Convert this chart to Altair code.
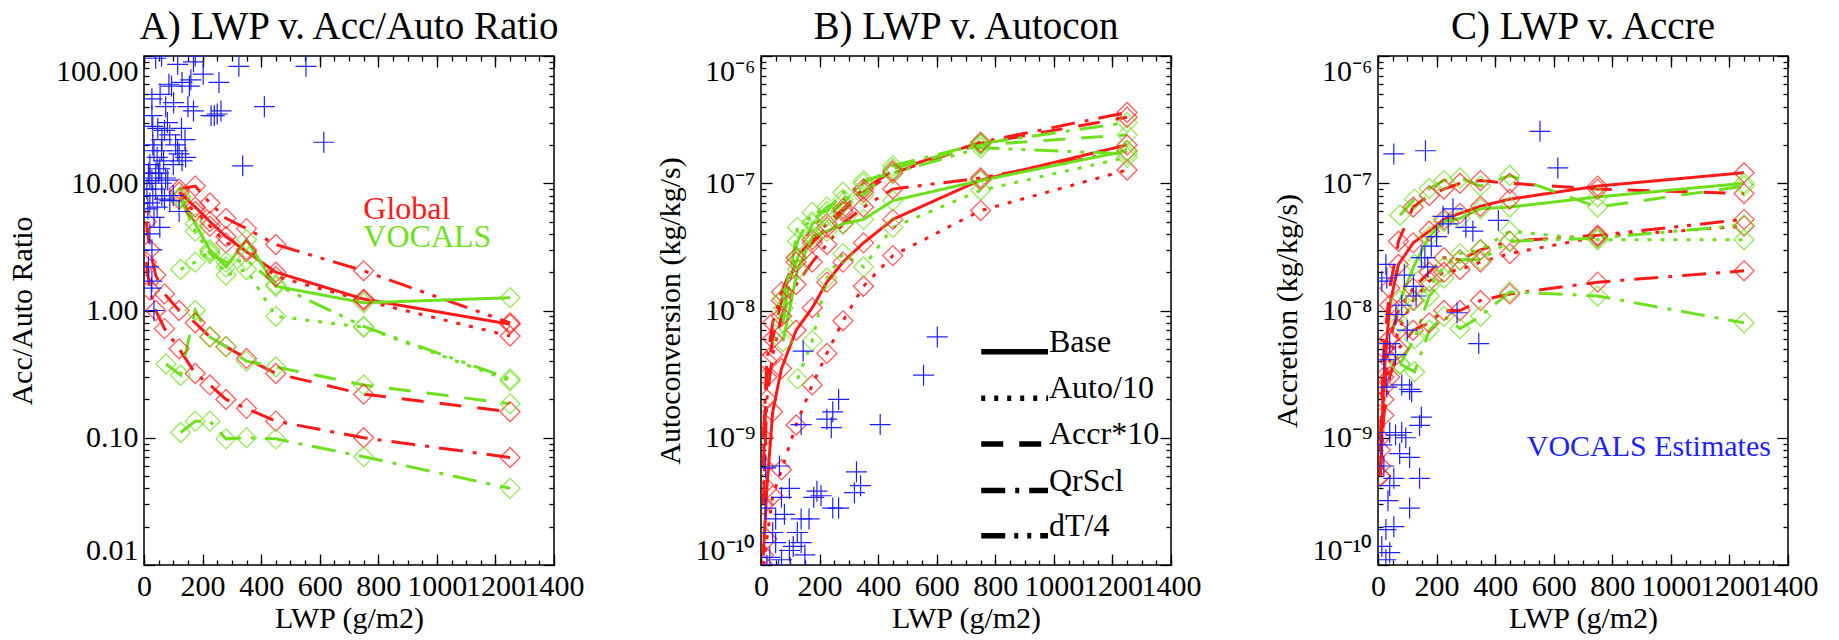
import altair as alt
import pandas as pd

SERIF = "Liberation Serif"
RED = "#ff1a1a"
GREEN = "#6ee01e"
BLUE = "#1f1fff"
CROSS = "M-1,0L1,0M0,-1L0,1"

EXPERIMENTS = ["Base", "Auto/10", "Accr*10", "QrScl", "dT/4"]
DASHES = [[1, 0], [4, 9], [22, 16], [24, 10, 4, 10], [24, 9, 4, 9, 4, 9]]
REGIONS = ["Global", "VOCALS"]
REGION_COLORS = [RED, GREEN]

# LWP bins (g/m2)
GLOBAL_LWP = [8, 20, 40, 70, 120, 175, 225, 280, 350, 450, 750, 1250]
VOCALS_LWP = [75, 125, 175, 225, 280, 350, 450, 750, 1250]

# ---- Panel A: Acc/Auto ratio ----
A_GLB_BASE = [None, None, None, None, 8.5, 6.5, 5.0, 3.8, 2.9, 2.0, 1.23, 0.78]
A_GLB_AUTO = [None, None, None, None, 7.5, 6.0, 4.6, 3.4, 3.0, 1.85, 1.20, 0.63]
A_GLB_ACCR = [5.0, 3.0, 1.9, 1.35, 1.0, 0.80, 0.62, 0.52, 0.42, 0.32, 0.22, 0.16]
A_GLB_QRSCL = [2.4, 1.45, 1.0, 0.72, 0.50, 0.32, 0.26, 0.20, 0.17, 0.135, 0.10, 0.07]
A_GLB_DT4 = [None, None, None, None, 9.0, 9.5, 7.0, 5.3, 4.4, 3.3, 2.05, 0.80]
A_VOC_BASE = [None, 7.9, 4.8, 3.0, 2.2, 3.6, 1.55, 1.15, 1.26]
A_VOC_AUTO = [None, 2.1, 2.4, 2.9, 1.9, 2.1, 0.9, 0.74, 0.28]
A_VOC_ACCR = [0.38, 0.31, 1.0, 0.62, 0.52, 0.40, 0.36, 0.26, 0.185]
A_VOC_QRSCL = [None, 0.11, 0.135, 0.135, 0.098, 0.10, 0.098, 0.071, 0.040]
A_VOC_DT4 = [None, 7.6, 4.2, 2.8, 2.4, 2.5, 1.6, 0.75, 0.29]

# ---- Panel B: autoconversion ----
B_GLB_BASE = [1.2e-10, 4e-10, 1.6e-9, 3.5e-9, 7e-9, 1.05e-8, 1.67e-8, 2.4e-8, 3.4e-8, 5.2e-8, 1.06e-7, 2.0e-7]
B_GLB_AUTO = [1.0e-10, 1.6e-10, 3.5e-10, 5.6e-10, 1.26e-9, 2.6e-9, 4.6e-9, 8.3e-9, 1.55e-8, 2.7e-8, 6.1e-8, 1.27e-7]
B_GLB_ACCR = [6e-10, 3e-9, 6e-9, 1.2e-8, 2.4e-8, 3.4e-8, 4.5e-8, 6e-8, 8.5e-8, 1.2e-7, 2.05e-7, 3.3e-7]
B_GLB_QRSCL = [1e-9, 4e-9, 8e-9, 1.4e-8, 2.6e-8, 3.6e-8, 4.8e-8, 6.3e-8, 9e-8, 1.25e-7, 2.1e-7, 3.6e-7]
B_GLB_DT4 = [3e-10, 2e-9, 4.5e-9, 9e-9, 1.6e-8, 2.4e-8, 3.3e-8, 4.8e-8, 6.5e-8, 9e-8, 1.1e-7, 1.8e-7]
B_VOC_BASE = [5.7e-9, 2.1e-8, 3.8e-8, 4.2e-8, 4.8e-8, 5.2e-8, 7.3e-8, 1.05e-7, 1.8e-7]
B_VOC_AUTO = [None, 2.9e-9, 5.8e-9, 1.8e-8, 2.8e-8, 2.2e-8, 4.5e-8, 8.8e-8, 1.6e-7]
B_VOC_ACCR = [1.04e-8, 2.6e-8, 4.8e-8, 5.5e-8, 7.0e-8, 1.0e-7, 1.3e-7, 2.0e-7, 2.4e-7]
B_VOC_QRSCL = [1.25e-8, 3.5e-8, 5.9e-8, 6.0e-8, 8.5e-8, 8.0e-8, 1.37e-7, 2.05e-7, 3.0e-7]
B_VOC_DT4 = [8e-9, 4.5e-8, 5e-8, 6.5e-8, 7.5e-8, 1.05e-7, 1.2e-7, 1.9e-7, 1.7e-7]

# ---- Panel C: accretion ----
C_GLB_BASE = [5e-10, 3e-9, 1.1e-8, 2.3e-8, 3.4e-8, 4.2e-8, 5.2e-8, 5.8e-8, 6.6e-8, 7.5e-8, 9.5e-8, 1.21e-7]
C_GLB_AUTO = [6e-10, 2e-9, 4e-9, 7e-9, 1.2e-8, 1.7e-8, 2.0e-8, 2.1e-8, 2.4e-8, 2.8e-8, 3.8e-8, 4.6e-8]
C_GLB_ACCR = [1.0e-9, 5e-9, 1.5e-8, 3.5e-8, 6.5e-8, 8e-8, 9e-8, 1.0e-7, 1.05e-7, 1.0e-7, 9.0e-8, 8.3e-8]
C_GLB_QRSCL = [5e-10, 1.5e-9, 3e-9, 5e-9, 7e-9, 8e-9, 1.0e-8, 1.0e-8, 1.2e-8, 1.35e-8, 1.67e-8, 2.05e-8]
C_GLB_DT4 = [8e-10, 2.5e-9, 6e-9, 1.0e-8, 1.5e-8, 2.0e-8, 2.6e-8, 2.5e-8, 3.0e-8, 3.5e-8, 3.9e-8, 5.2e-8]
C_VOC_BASE = [1.2e-8, 2.3e-8, 3.8e-8, 5.0e-8, 5.3e-8, 6.3e-8, 6.5e-8, 7.8e-8, 1.0e-7]
C_VOC_AUTO = [8e-9, 1.2e-8, 1.55e-8, 2.2e-8, 2.8e-8, 3.0e-8, 4.2e-8, 3.6e-8, 3.6e-8]
C_VOC_ACCR = [5.6e-8, 7.5e-8, 9.1e-8, 1.05e-7, 1.1e-7, 9.5e-8, 1.15e-7, 6.5e-8, 9.5e-8]
C_VOC_QRSCL = [3.8e-9, 3.3e-9, 7e-9, 9e-9, 7.2e-9, 9e-9, 1.4e-8, 1.3e-8, 8e-9]
C_VOC_DT4 = [3.8e-9, 6e-9, 1.3e-8, 1.8e-8, 2.5e-8, 2.5e-8, 3.5e-8, 3.7e-8, 4.7e-8]

# ---- VOCALS observational estimates (blue crosses) ----
OBS_A_LWP = [40, 115, 169, 202, 256, 324, 553, 94, 155, 411, 263, 229, 169, 101, 74, 27, 614, 337,
             47, 61, 88, 115, 142, 34, 54, 74, 27, 40, 61, 88, 34, 20, 27, 27, 34, 13, 54, 67, 108,
             128, 27, 81, 20, 10, 15, 20, 30, 45, 50, 60, 70, 80, 100, 120, 130, 140, 240, 250, 150,
             160, 60, 40, 30, 20, 15, 25, 45, 70, 100, 120, 30, 55, 85, 130, 175, 60]
OBS_A_VAL = [96, 86, 90, 72, 62, 83, 83, 58, 58, 40, 37, 34, 37, 43, 40, 34, 21, 13.7,
             27, 22, 24, 18, 16, 18, 13, 11, 10.5, 9, 8, 7.3, 5.4, 4, 3, 1.7, 1.0, 6.3, 4.5, 15, 20,
             27, 46, 10.6, 11, 9, 12, 14, 20, 16, 12, 18, 26, 30, 14, 17, 15, 22, 34, 35, 40,
             65, 10, 12, 8, 7, 2.2, 1.5, 6.5, 7.5, 8, 6, 28, 50, 60, 62, 100, 100]
OBS_B_LWP = [602, 555, 407, 265, 245, 225, 137, 144, 326, 340, 319, 265, 245, 191, 205, 97, 70, 50,
             16, 63, 137, 124, 137, 97, 70, 30, 50, 164, 16, 80, 110, 40, 150, 60, 100, 20, 180, 240]
OBS_B_VAL = [6.2e-9, 3.1e-9, 1.27e-9, 2.0e-9, 1.6e-9, 1.4e-9, 1.27e-9, 4.8e-9, 5.4e-10, 4.2e-10,
             3.7e-10, 2.8e-10, 2.8e-10, 3.8e-10, 3.5e-10, 4e-10, 3.4e-10, 2.3e-10, 5.8e-10, 6e-10,
             2.3e-10, 1.8e-10, 1.5e-10, 1.3e-10, 1.1e-10, 1.15e-10, 1.5e-10, 2.3e-10, 2.8e-10,
             2.5e-10, 1.4e-10, 1.8e-10, 1.2e-10, 9e-11, 9.5e-11, 1.0e-10, 3.4e-10, 1.2e-9]
OBS_C_LWP = [54, 162, 553, 614, 411, 344, 256, 324, 270, 222, 182, 148, 121, 81, 61, 27, 13, 40, 20,
             81, 108, 148, 142, 81, 40, 13, 74, 108, 142, 54, 40, 108, 34, 27, 13, 40, 27, 54,
             300, 240, 200, 170, 130, 100, 60, 90, 30, 95, 60, 20, 115, 30, 160]
OBS_C_VAL = [1.7e-7, 1.8e-7, 2.56e-7, 1.32e-7, 5.1e-8, 5.5e-9, 6.3e-8, 4.2e-8, 9.6e-9, 5.5e-8,
             3.2e-8, 2.6e-8, 1.55e-8, 1.1e-8, 9.3e-9, 2.3e-8, 1.7e-8, 5.5e-9, 4.1e-9, 2.6e-9, 2.4e-9,
             1.45e-9, 1.25e-9, 1.1e-9, 1.1e-9, 8.8e-10, 7.5e-10, 7e-10, 4.8e-10, 4.8e-10, 4.2e-10,
             2.8e-10, 3.2e-10, 1.9e-10, 1.4e-10, 1.25e-10, 1.1e-10, 2e-10,
             4.5e-8, 4.8e-8, 3.8e-8, 2.2e-8, 1.3e-8, 7e-9, 4.5e-9, 1.9e-8, 1.8e-8, 1.0e-9, 1.05e-9,
             6e-10, 2.3e-9, 2.5e-9, 2.6e-8]

# ---- axis ticks ----
X_MAJOR = [0, 200, 400, 600, 800, 1000, 1200, 1400]
X_MINOR = list(range(0, 1401, 50))
A_MAJOR = [0.01, 0.1, 1.0, 10.0, 100.0]
BC_MAJOR = [1e-10, 1e-9, 1e-8, 1e-7, 1e-6]


def minor_values(decades):
    return [m * 10.0 ** d for d in decades for m in range(2, 10)]


A_MINOR = minor_values(range(-2, 2))
BC_MINOR = minor_values(range(-10, -6))

SUP = {"-6": "\u207b\u2076", "-7": "\u207b\u2077", "-8": "\u207b\u2078",
       "-9": "\u207b\u2079", "-10": "\u207b\u00b9\u2070"}
POW_EXPR = "'10' + " + "".join(
    f"(round(log(datum.value)/LN10) == {k} ? '{v}' : " for k, v in SUP.items()) + "''" + ")" * len(SUP)


def model_frame(glb, voc):
    rows = []
    for exp, vals in zip(EXPERIMENTS, glb):
        for x, v in zip(GLOBAL_LWP, vals):
            if v is not None:
                rows.append({"lwp": x, "val": v, "region": "Global", "exp": exp})
    for exp, vals in zip(EXPERIMENTS, voc):
        for x, v in zip(VOCALS_LWP, vals):
            if v is not None:
                rows.append({"lwp": x, "val": v, "region": "VOCALS", "exp": exp})
    df = pd.DataFrame(rows)
    df["series"] = df["region"] + " " + df["exp"]
    return df


COLOR = alt.Color("region:N", scale=alt.Scale(domain=REGIONS, range=REGION_COLORS), legend=None)
DASH = alt.StrokeDash("exp:N", scale=alt.Scale(domain=EXPERIMENTS, range=DASHES), legend=None)
XSCALE = alt.Scale(domain=[0, 1400], nice=False, zero=False)


def tick_axis(orient, values, size, offset):
    return alt.Axis(orient=orient, values=values, offset=-offset, tickSize=size, labels=False,
                    domain=False, grid=False, title=None, tickColor="black", tickWidth=1.3)


def panel(title, ytitle, ydomain, major, minor, lines, obs_x, obs_y, label_kw, ytp, extra=None):
    ysc = alt.Scale(type="log", domain=ydomain, nice=False)
    X = lambda **k: alt.X("lwp:Q", scale=XSCALE, **k)
    Y = lambda **k: alt.Y("val:Q", scale=ysc, **k)

    line_layer = alt.Chart(lines).mark_line(strokeWidth=3, clip=True).encode(
        x=X(axis=None), y=Y(axis=None), color=COLOR, strokeDash=DASH, detail="series:N")
    pts = alt.Chart(lines).mark_point(shape="diamond", filled=False, size=400, strokeWidth=1.3,
                                      clip=True).encode(x=X(axis=None), y=Y(axis=None), color=COLOR)
    obs = pd.DataFrame({"lwp": obs_x, "val": obs_y})
    obs_layer = alt.Chart(obs).mark_point(shape=CROSS, filled=False, size=440, strokeWidth=1.2,
                                          color=BLUE, opacity=1, clip=True).encode(
        x=X(axis=None), y=Y(axis=None))

    ghost = alt.Chart(lines).mark_point(opacity=0)
    main_axes = ghost.encode(
        x=X(axis=alt.Axis(orient="bottom", values=X_MAJOR, format="d", ticks=False, tickSize=0,
                          domain=False, grid=False, labelFont=SERIF, labelFontSize=30,
                          labelColor="black", labelPadding=6, labelFlush=False, labelOverlap=False,
                          title="LWP (g/m2)", titleFont=SERIF, titleFontSize=30,
                          titleFontWeight="normal", titleColor="black", titlePadding=2)),
        y=Y(axis=alt.Axis(orient="left", values=major, ticks=False, tickSize=0, domain=False,
                          grid=False, labelFont=SERIF, labelFontSize=30, labelColor="black",
                          labelPadding=6, labelFlush=True, labelOverlap=False,
                          title=ytitle, titleFont=SERIF, titleFontSize=30,
                          titleFontWeight="normal", titleColor="black", titlePadding=ytp,
                          **label_kw)))
    t1 = ghost.encode(x=X(axis=tick_axis("bottom", X_MAJOR, 11, 11)),
                      y=Y(axis=tick_axis("left", major, 11, 11)))
    t2 = ghost.encode(x=X(axis=tick_axis("bottom", X_MINOR, 5, 5)),
                      y=Y(axis=tick_axis("left", minor, 5, 5)))
    t3 = ghost.encode(x=X(axis=tick_axis("top", X_MAJOR, 11, 11)),
                      y=Y(axis=tick_axis("right", major, 11, 11)))
    t4 = ghost.encode(x=X(axis=tick_axis("top", X_MINOR, 5, 5)),
                      y=Y(axis=tick_axis("right", minor, 5, 5)))

    layers = [line_layer, pts, obs_layer]
    if extra:
        layers += extra(X, Y)
    layers += [main_axes, t1, t2, t3, t4]
    return alt.layer(*layers).resolve_axis(x="independent", y="independent").properties(
        width=410, height=509,
        title=alt.TitleParams(title, font=SERIF, fontSize=39, fontWeight="normal",
                              color="black", anchor="middle", offset=8))


# annotation texts
A_TEXT_LABELS = ["Global", "VOCALS"]
A_TEXT_LWP = [749, 749]
A_TEXT_VAL = [5.2, 3.15]
C_TEXT_LABEL = ["VOCALS Estimates"]
C_TEXT_LWP = [508]
C_TEXT_VAL = [7.2e-10]
LEG_X1 = 752
LEG_X2 = 980
LEG_VAL = [10 ** -8.325, 10 ** -8.69, 10 ** -9.05, 10 ** -9.415, 10 ** -9.77]


def extra_a(X, Y):
    df = pd.DataFrame({"lwp": A_TEXT_LWP, "val": A_TEXT_VAL, "region": A_TEXT_LABELS})
    return [alt.Chart(df).mark_text(align="left", baseline="alphabetic", font=SERIF, fontSize=32).encode(
        x=X(axis=None), y=Y(axis=None), text="region:N", color=COLOR)]


def extra_b(X, Y):
    df = pd.DataFrame({"lwp": [LEG_X1] * 5, "lwp2": [LEG_X2] * 5, "val": LEG_VAL, "exp": EXPERIMENTS})
    rules = alt.Chart(df).mark_rule(strokeWidth=5.5, color="black").encode(
        x=X(axis=None), x2="lwp2:Q", y=Y(axis=None), strokeDash=DASH)
    texts = alt.Chart(df).mark_text(align="left", baseline="alphabetic", dx=1, font=SERIF,
                                    fontSize=32, color="black").encode(
        x=alt.X("lwp2:Q", scale=XSCALE, axis=None), y=Y(axis=None), text="exp:N")
    return [rules, texts]


def extra_c(X, Y):
    df = pd.DataFrame({"lwp": C_TEXT_LWP, "val": C_TEXT_VAL, "label": C_TEXT_LABEL})
    return [alt.Chart(df).mark_text(align="left", baseline="alphabetic", font=SERIF, fontSize=30,
                                    color=BLUE).encode(x=X(axis=None), y=Y(axis=None), text="label:N")]


pA = panel("A) LWP v. Acc/Auto Ratio", "Acc/Auto Ratio", [0.01, 100], A_MAJOR, A_MINOR,
           model_frame([A_GLB_BASE, A_GLB_AUTO, A_GLB_ACCR, A_GLB_QRSCL, A_GLB_DT4],
                       [A_VOC_BASE, A_VOC_AUTO, A_VOC_ACCR, A_VOC_QRSCL, A_VOC_DT4]),
           OBS_A_LWP, OBS_A_VAL, {"format": ".2f"}, 18, extra_a)
pB = panel("B) LWP v. Autocon", "Autoconversion (kg/kg/s)", [1e-10, 1e-6], BC_MAJOR, BC_MINOR,
           model_frame([B_GLB_BASE, B_GLB_AUTO, B_GLB_ACCR, B_GLB_QRSCL, B_GLB_DT4],
                       [B_VOC_BASE, B_VOC_AUTO, B_VOC_ACCR, B_VOC_QRSCL, B_VOC_DT4]),
           OBS_B_LWP, OBS_B_VAL, {"labelExpr": POW_EXPR}, 10, extra_b)
pC = panel("C) LWP v. Accre", "Accretion (kg/kg/s)", [1e-10, 1e-6], BC_MAJOR, BC_MINOR,
           model_frame([C_GLB_BASE, C_GLB_AUTO, C_GLB_ACCR, C_GLB_QRSCL, C_GLB_DT4],
                       [C_VOC_BASE, C_VOC_AUTO, C_VOC_ACCR, C_VOC_QRSCL, C_VOC_DT4]),
           OBS_C_LWP, OBS_C_VAL, {"labelExpr": POW_EXPR}, 10, extra_c)

chart = alt.hconcat(pA, pB, pC, spacing=207, bounds="flush").properties(
    padding={"left": 6, "top": 7, "right": 5, "bottom": 2},
    background="white",
).configure_view(stroke="black", strokeWidth=1.5)

chart.save("out.html", embed_options={"renderer": "svg", "actions": False})
